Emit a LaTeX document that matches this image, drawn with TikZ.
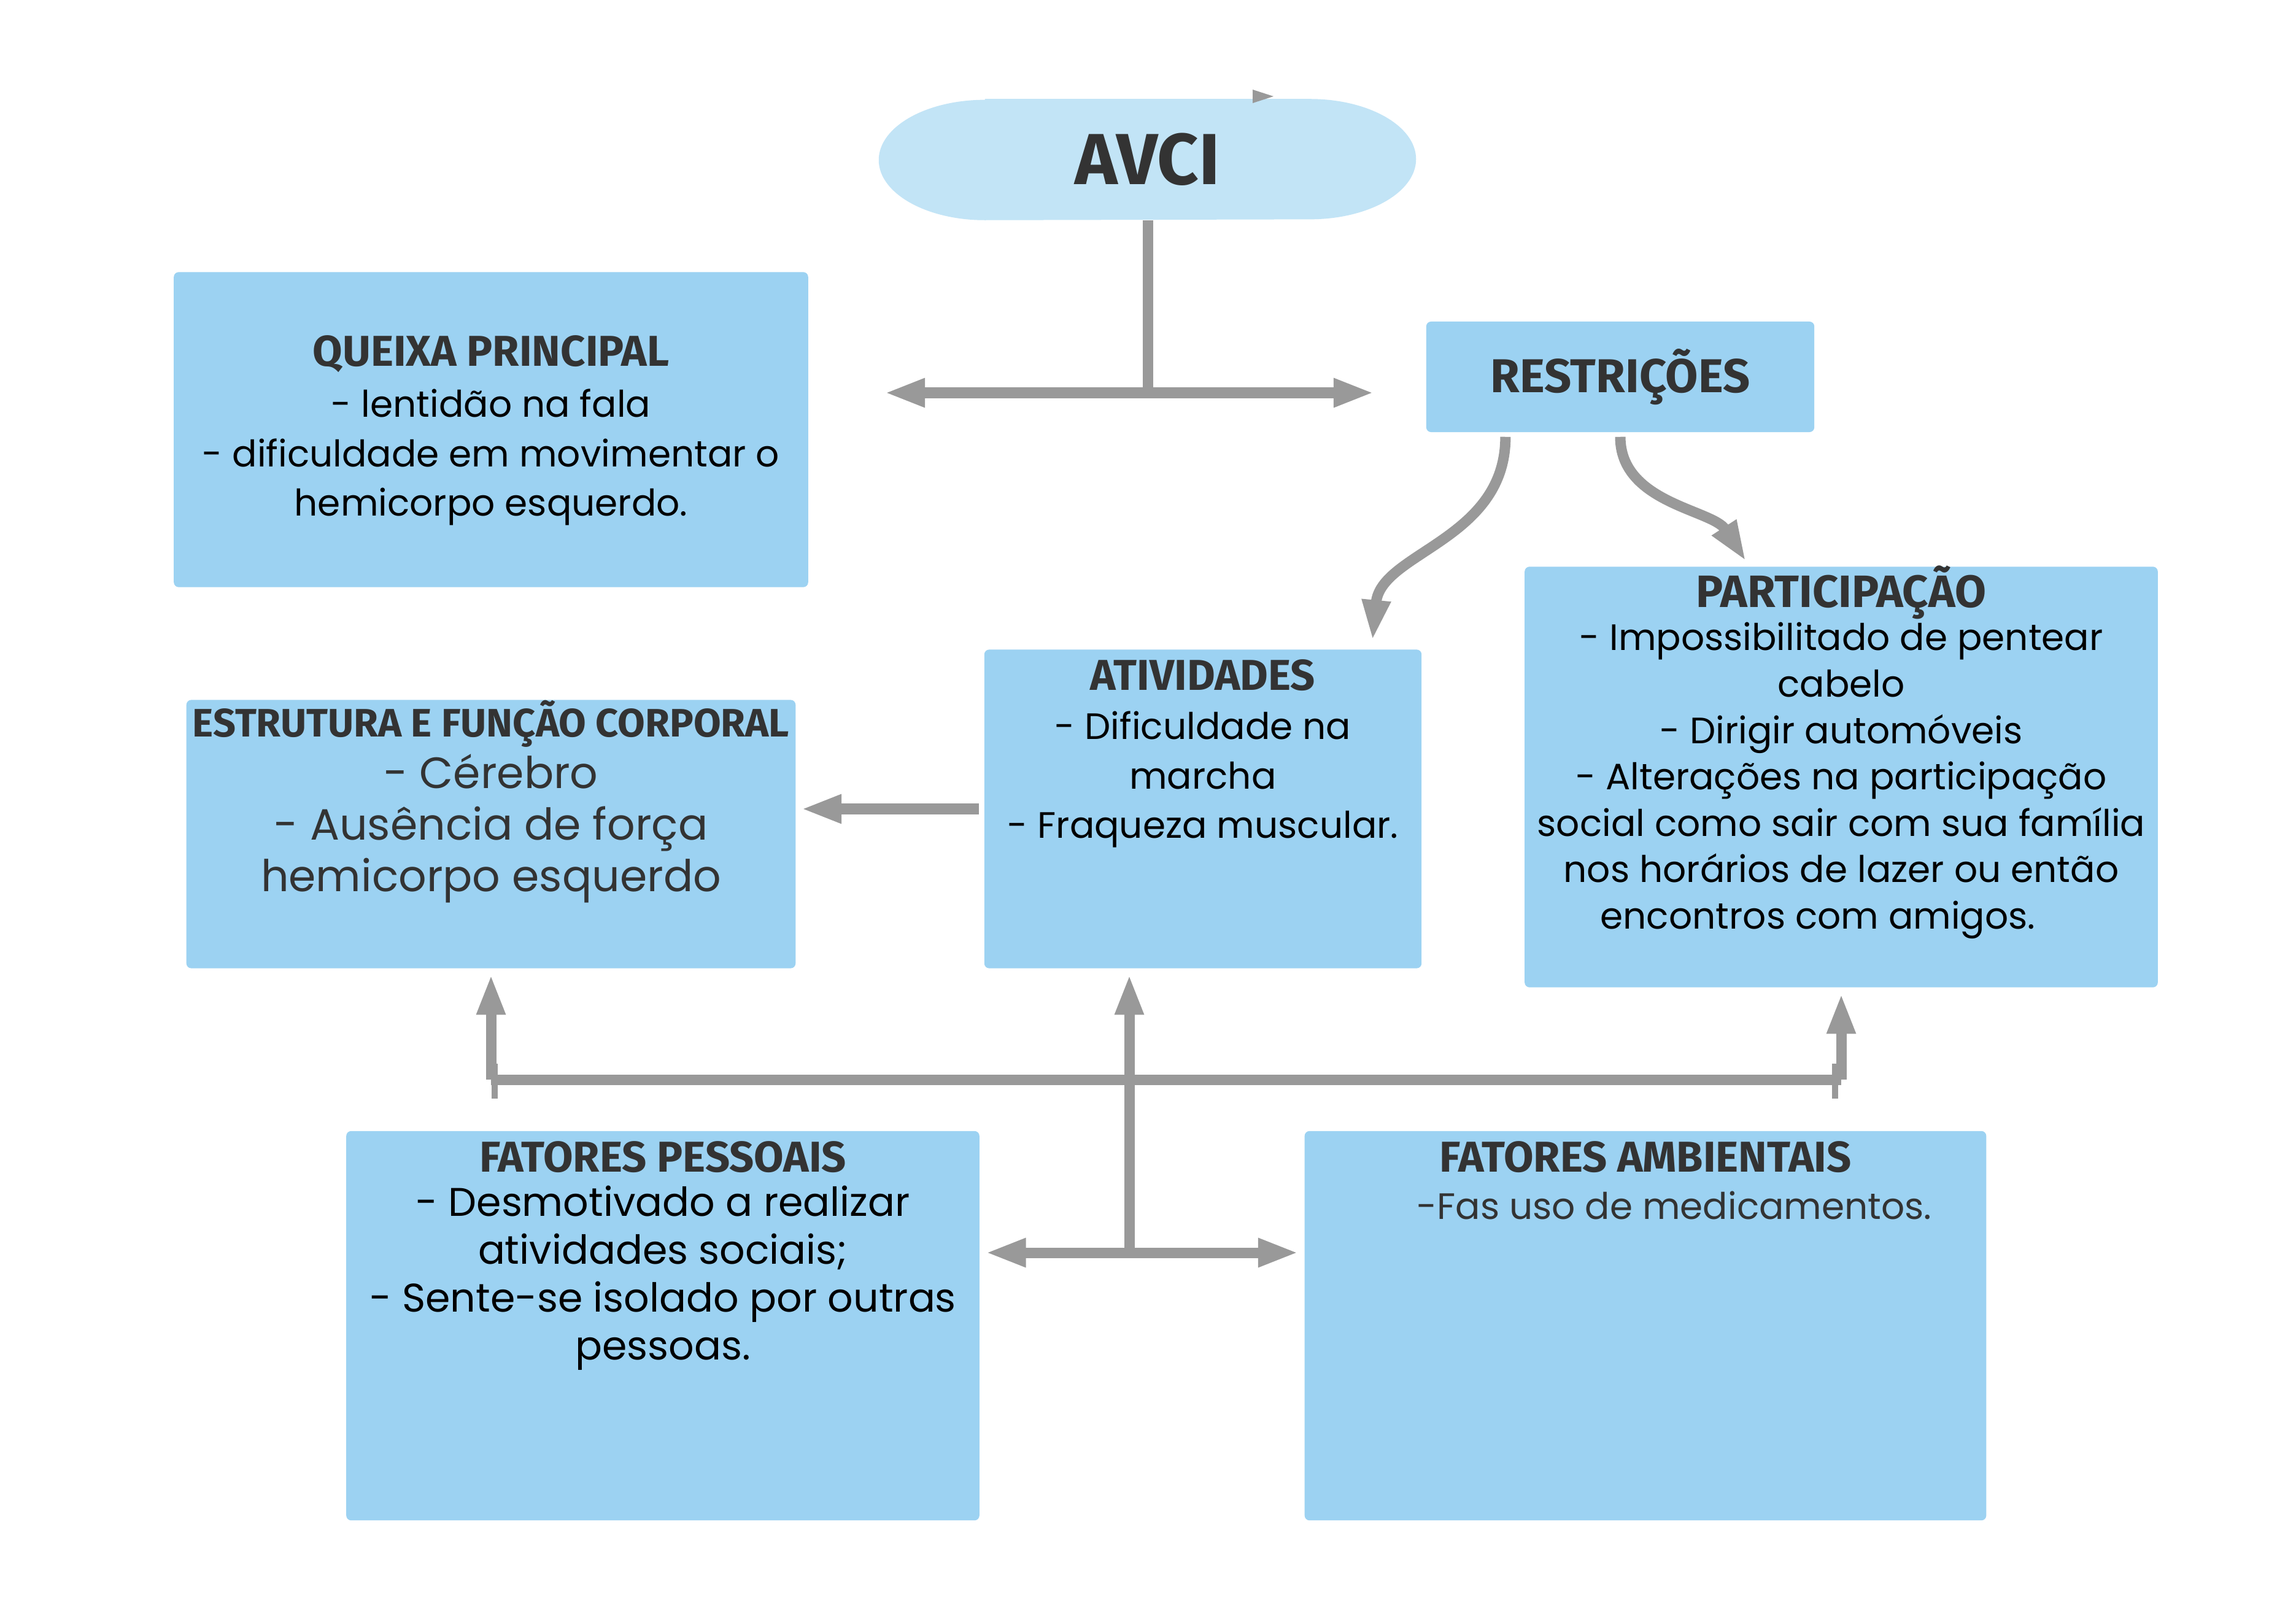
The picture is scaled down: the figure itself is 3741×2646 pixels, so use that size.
\documentclass[tikz,border=0pt]{standalone}
\usepackage{fontspec}
\setmainfont{Poppins}
\newfontfamily\titulofonte{Fira Sans}
\usetikzlibrary{arrows.meta, backgrounds}
\definecolor{caixaazul}{HTML}{9CD2F2}
\definecolor{avciazul}{HTML}{C2E4F6}
\definecolor{cinzaseta}{HTML}{999999}
\definecolor{textocinza}{HTML}{333333}

\tikzset{
    caixa/.style={fill=caixaazul, rounded corners=0.08cm, inner sep=0pt},
    titulo/.style={font=\titulofonte\bfseries\fontsize{20}{24}\selectfont, text=textocinza, inner sep=0pt},
    corpo/.style={font=\fontsize{17}{21.5}\selectfont, align=center, inner sep=0pt},
    seta/.style={draw=cinzaseta, line width=0.17cm, -{Triangle[length=0.66cm, width=0.43cm]}},
    linha/.style={draw=cinzaseta, line width=0.17cm}
}

\begin{document}
\begin{tikzpicture}[x=0.01cm, y=-0.01cm]
    \useasboundingbox (0,0) rectangle (3741,2646);

    % AVCI
    \node[minimum width=8.75cm, minimum height=1.96cm, inner sep=0pt, text=textocinza,
          font=\titulofonte\bfseries\fontsize{33.5}{38}\selectfont] (avci) at (1870,260) {AVCI};
    \begin{scope}[on background layer]
        \fill[white] (0,0) rectangle (3741,2646);
        \fill[avciazul] ([xshift=-2.65cm]avci.north) -- ([xshift=2.64cm]avci.north)
            arc[start angle=90, end angle=-90, x radius=1.73cm, y radius=0.98cm]
            -- ([xshift=-2.65cm]avci.south)
            arc[start angle=270, end angle=90, x radius=1.73cm, y radius=0.98cm] -- cycle;
    \end{scope}
    \fill[cinzaseta] (2041,146) -- (2075,157) -- (2041,168) -- cycle;

    % caixas
    \node[caixa, minimum width=10.33cm, minimum height=5.13cm] (queixa) at (800,700) {};
    \node[caixa, minimum width=6.32cm, minimum height=1.80cm, titulo,
          font=\titulofonte\bfseries\fontsize{22}{26}\selectfont] (restr) at (2640,614) {RESTRIÇÕES};
    \node[caixa, minimum width=10.31cm, minimum height=6.85cm] (part) at (3000,1266) {};
    \node[caixa, minimum width=7.12cm, minimum height=5.19cm] (ativ) at (1960,1318) {};
    \node[caixa, minimum width=9.92cm, minimum height=4.37cm] (estr) at (800,1359) {};
    \node[caixa, minimum width=10.31cm, minimum height=6.34cm] (pess) at (1080,2160) {};
    \node[caixa, minimum width=11.10cm, minimum height=6.34cm] (amb) at (2681,2160) {};

    % textos
    \node[titulo] (queixa-tit) at (800,577) {QUEIXA PRINCIPAL};
    \node[corpo, font=\fontsize{17}{22.8}\selectfont] (queixa-txt) at (800,745)
        {- lentidão na fala\\- dificuldade em movimentar o\\hemicorpo esquerdo.};
    \node[titulo, font=\titulofonte\bfseries\fontsize{21}{25}\selectfont] (part-tit) at (3000,965) {PARTICIPAÇÃO};
    \node[corpo] (part-txt) at (3000,1272)
        {- Impossibilitado de pentear\\cabelo\\- Dirigir automóveis\\- Alterações na participação\\social como sair com sua família\\nos horários de lazer ou então\\encontros com amigos.\hspace*{0.76cm}};
    \node[titulo] (ativ-tit) at (1960,1100) {ATIVIDADES};
    \node[corpo, font=\fontsize{17}{23}\selectfont] (ativ-txt) at (1960,1270)
        {- Dificuldade na\\marcha\\- Fraqueza muscular.};
    \node[titulo, font=\titulofonte\bfseries\fontsize{18.4}{22}\selectfont] (estr-tit) at (800,1179) {ESTRUTURA E FUNÇÃO CORPORAL};
    \node[corpo, font=\fontsize{20.3}{23.8}\selectfont, text=textocinza] (estr-txt) at (800,1350)
        {- Cérebro\\- Ausência de força\\hemicorpo esquerdo};
    \node[titulo] (pess-tit) at (1080,1885) {FATORES PESSOAIS};
    \node[corpo, font=\fontsize{18.5}{22.2}\selectfont] (pess-txt) at (1080,2082)
        {- Desmotivado a realizar\\atividades sociais;\\- Sente-se isolado por outras\\pessoas.};
    \node[titulo] (amb-tit) at (2681,1885) {FATORES AMBIENTAIS};
    \node[corpo, text=textocinza] (amb-txt) at (2728,1964) {-Fas uso de medicamentos.};

    % setas do AVCI
    \coordinate (avci-ramo) at (1870,640);
    \coordinate (ramo-esq) at (1441,640);
    \coordinate (ramo-dir) at (2239,640);
    \draw[linha] (avci) -- (avci-ramo);
    \draw[seta] (avci-ramo) -- (ramo-esq);
    \draw[seta] (avci-ramo) -- (ramo-dir);

    % setas das restricoes
    \draw[seta] ([yshift=-0.07cm, xshift=-1.87cm]restr.south) .. controls (2453,880) and (2250,900) .. ([xshift=2.76cm, yshift=0.14cm]ativ.north);
    \draw[seta] ([yshift=-0.07cm]restr.south) .. controls (2640,820) and (2790,830) .. ([xshift=-1.55cm, yshift=0.08cm]part.north);

    % atividades -> estrutura
    \draw[seta, shorten <=0.08cm, shorten >=0.08cm] (ativ.west) -- (ativ.west -| estr.east);

    % fatores
    \coordinate (centro) at (1840,2041);
    \coordinate (barra-esq) at (800,1759);
    \coordinate (barra-dir) at (3000,1759);
    \draw[linha] (barra-esq) -- (barra-dir);
    \draw[linha, line width=0.1cm] (806,1733) -- (806,1790);
    \draw[linha, line width=0.1cm] (2990,1733) -- (2990,1790);
    \draw[seta, shorten >=0.09cm] (barra-esq) -- (estr.south);
    \draw[seta, shorten >=0.09cm] (barra-dir) -- (part.south);
    \draw[seta, shorten >=0.09cm] (centro) -- (centro |- ativ.south);
    \draw[seta, shorten >=0.09cm] (centro) -- (centro -| pess.east);
    \draw[seta, shorten >=0.09cm] (centro) -- (centro -| amb.west);
\end{tikzpicture}
\end{document}
